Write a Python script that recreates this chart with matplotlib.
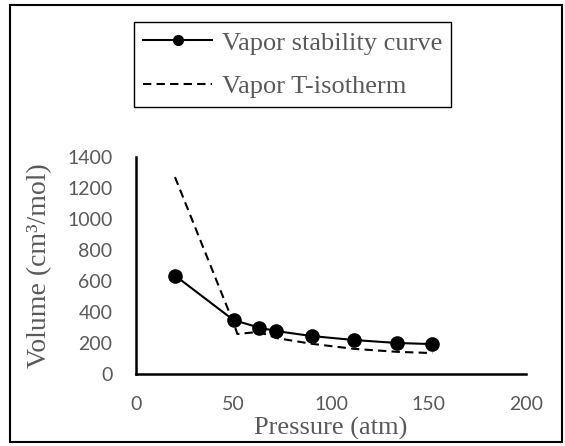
import matplotlib.pyplot as plt
from matplotlib.lines import Line2D
from matplotlib.patches import Rectangle

# dados
pressao = [20, 50, 63, 72, 90, 112, 134, 152]
vol_estab = [635, 348, 300, 277, 245, 219, 200, 193]

pressao_iso = [20, 50, 52, 63, 72, 90, 112, 134, 152]
vol_iso = [1270, 330, 258, 272, 232, 195, 162, 143, 135]

x_ticks = [0, 50, 100, 150, 200]
y_ticks = [0, 200, 400, 600, 800, 1000, 1200, 1400]

W, H = 565, 446
fig = plt.figure(figsize=(W / 100, H / 100), dpi=100)
ax = fig.add_axes([136 / W, 1 - 374 / H, 390 / W, 217 / H])

serif = 'Liberation Serif'
cinza = '#595959'

ax.plot(pressao, vol_estab, color='black', linewidth=1.5, marker='o',
        markersize=9.5)
ax.plot(pressao_iso, vol_iso, color='black', linewidth=1.5, dashes=(4, 2.5))

ax.set_xlim(0, 200)
ax.set_ylim(0, 1400)
ax.set_xticks(x_ticks)
ax.set_yticks(y_ticks)
ax.tick_params(length=0, labelsize=14, labelcolor=cinza)
ax.tick_params(axis='x', pad=16)
ax.tick_params(axis='y', pad=17)
for lab in ax.get_xticklabels() + ax.get_yticklabels():
    lab.set_family('Lato')

for s in ['top', 'right']:
    ax.spines[s].set_visible(False)
for s in ['left', 'bottom']:
    ax.spines[s].set_linewidth(1.8)
    ax.spines[s].set_color('black')
ax.patch.set_alpha(0)

fig.text(331 / W, 1 - 435 / H, 'Pressure (atm)', family=serif, fontsize=19,
         color=cinza, ha='center', va='baseline')
fig.text(40 / W, 1 - 266 / H, 'Volume (cm³/mol)', family=serif, fontsize=20,
         color=cinza, ha='center', va='center', rotation=90)

# legenda com marcador menor que o do gráfico
h1 = Line2D([], [], color='black', linewidth=1.5, marker='o', markersize=7)
h2 = Line2D([], [], color='black', linewidth=1.5, dashes=(4, 2.5))
leg = fig.legend(handles=[h1, h2],
                 labels=['Vapor stability curve', 'Vapor T-isotherm'],
                 loc='upper left', bbox_to_anchor=(134 / W, 1 - 22 / H),
                 borderaxespad=0, prop={'family': serif, 'size': 19},
                 labelcolor=cinza, fancybox=False, framealpha=1,
                 edgecolor='black', handlelength=2.6, handletextpad=0.38,
                 labelspacing=0.75, borderpad=0.35)
leg.get_frame().set_linewidth(1.0)

# moldura externa
fig.patches.append(Rectangle((10 / W, 4 / H), 552 / W, 437 / H,
                             transform=fig.transFigure, fill=False,
                             edgecolor='black', linewidth=1.5))

plt.savefig('out.png', dpi=100)
